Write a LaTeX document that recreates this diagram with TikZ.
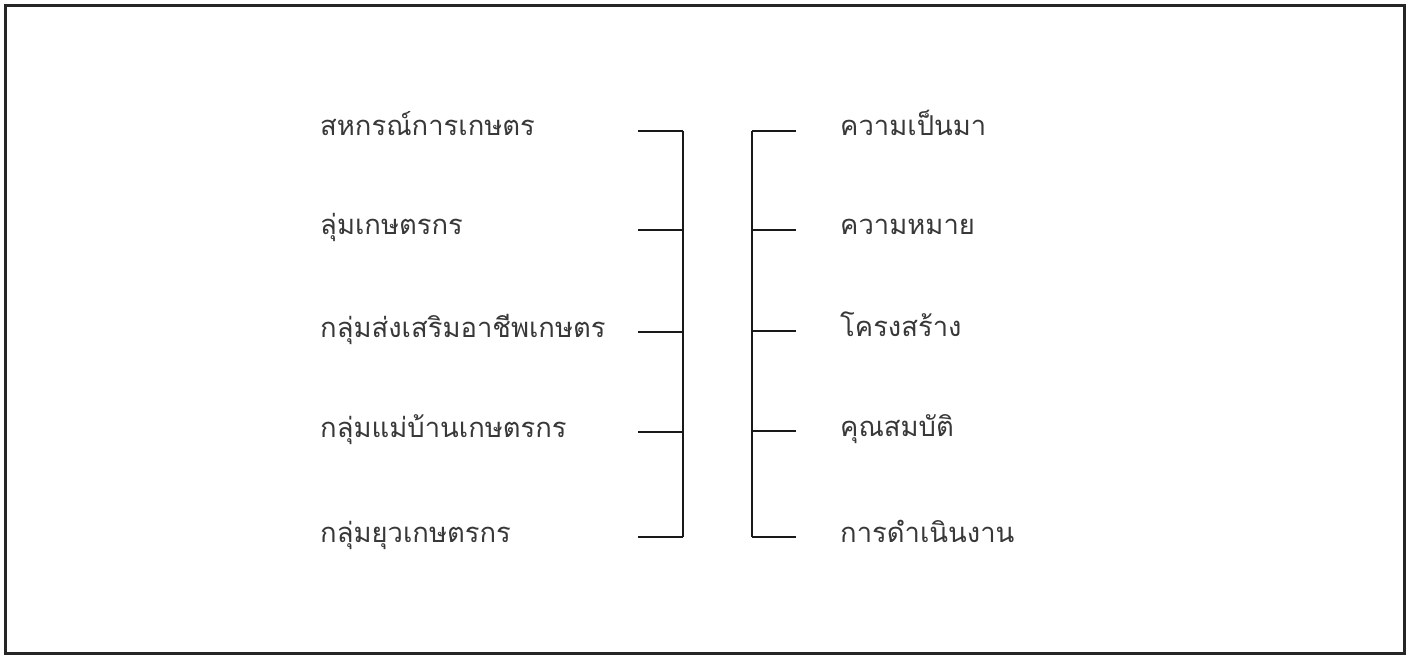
\documentclass[tikz,border=0pt]{standalone}
\usepackage{fontspec}
\newfontfamily\thaifont[Script=Thai]{Loma}
\begin{document}
\begin{tikzpicture}[x=1pt,y=-1pt,
  lbl/.style={anchor=base west,inner sep=0pt,font=\thaifont\fontsize{27.4}{30}\selectfont,text=black!78},
  brk/.style={line width=2.8pt,black!90}]
\useasboundingbox (0,0) rectangle (1411,655);
\draw[line width=3.4pt,black!85] (5.7,5.7) rectangle (1404.3,654);
\foreach \i/\y/\t in {1/131/สหกรณ์การเกษตร,2/230/ลุ่มเกษตรกร,3/332/กลุ่มส่งเสริมอาชีพเกษตร,4/432/กลุ่มแม่บ้านเกษตรกร,5/537/กลุ่มยุวเกษตรกร}{
  \node[lbl] (L\i) at (320,\y+5) {\t};
  \coordinate (la\i) at (638,\y);
  \coordinate (lb\i) at (683,\y);
  \draw[brk] (la\i) -- (lb\i);
}
\foreach \i/\y/\t in {1/131/ความเป็นมา,2/230/ความหมาย,3/331/โครงสร้าง,4/431/คุณสมบัติ,5/537/การดำเนินงาน}{
  \node[lbl] (R\i) at (840,\y+5) {\t};
  \coordinate (ra\i) at (752,\y);
  \coordinate (rb\i) at (796,\y);
  \draw[brk] (ra\i) -- (rb\i);
}
\draw[brk] (lb1) -- (lb5);
\draw[brk] (ra1) -- (ra5);
\end{tikzpicture}
\end{document}
